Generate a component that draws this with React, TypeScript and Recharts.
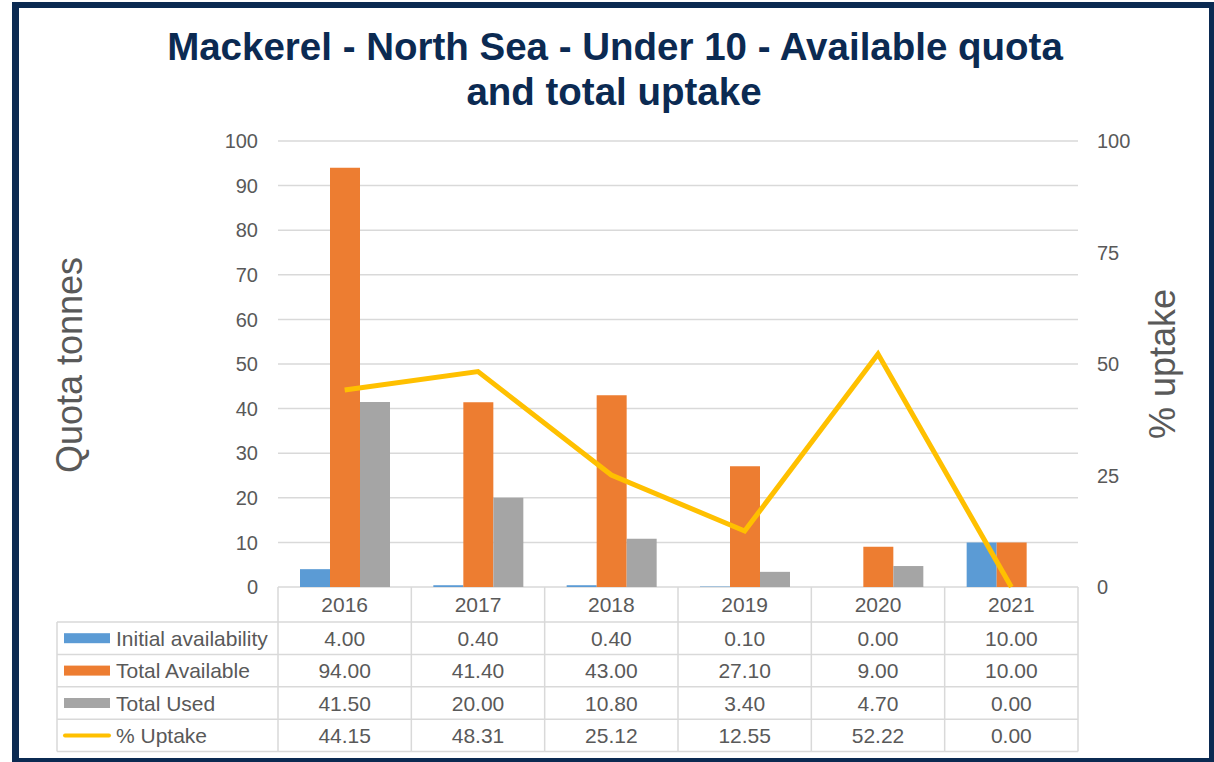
import React from 'react';
import { ComposedChart, Bar, Line, XAxis, YAxis, CartesianGrid } from 'recharts';

const years = ['2016', '2017', '2018', '2019', '2020', '2021'];
const initialAvailability = [4, 0.4, 0.4, 0.1, 0, 10];
const totalAvailable = [94, 41.4, 43, 27.1, 9, 10];
const totalUsed = [41.5, 20, 10.8, 3.4, 4.7, 0];
const uptake = [44.15, 48.31, 25.12, 12.55, 52.22, 0];

const leftTicks = [0, 10, 20, 30, 40, 50, 60, 70, 80, 90, 100];
const rightTicks = [0, 25, 50, 75, 100];

const data = years.map((year, i) => ({
  year,
  initial: initialAvailability[i],
  available: totalAvailable[i],
  used: totalUsed[i],
  uptake: uptake[i],
}));

const FONT = '"Liberation Sans", Arial, sans-serif';
const TEXT = '#595959';
const GRID = '#d9d9d9';
const NAVY = '#0b2a52';

// layout of the plot and the data table below it
const PLOT_LEFT = 278;
const PLOT_RIGHT = 1078;
const PLOT_TOP = 141;
const PLOT_BOTTOM = 587;
const COL_W = (PLOT_RIGHT - PLOT_LEFT) / years.length;
const HEADER_H = 35;
const ROW_H = 32.4;
const LEGEND_LEFT = 57;

const rows = [
  { name: 'Initial availability', values: initialAvailability, color: '#5b9bd5', kind: 'bar' },
  { name: 'Total Available', values: totalAvailable, color: '#ed7d31', kind: 'bar' },
  { name: 'Total Used', values: totalUsed, color: '#a5a5a5', kind: 'bar' },
  { name: '% Uptake', values: uptake, color: '#ffc000', kind: 'line' },
];

const TableTick = (props: any) => {
  const { x, index, payload } = props;
  const left = x - COL_W / 2;
  const bottom = PLOT_BOTTOM + HEADER_H + ROW_H * rows.length;
  return (
    <g fontFamily={FONT} fontSize={21} fill={TEXT}>
      <line x1={left + COL_W} y1={PLOT_BOTTOM} x2={left + COL_W} y2={bottom} stroke={GRID} strokeWidth={1.5} />
      {index === 0 && (
        <g>
          <line x1={left} y1={PLOT_BOTTOM} x2={left} y2={bottom} stroke={GRID} strokeWidth={1.5} />
          <line x1={LEGEND_LEFT} y1={PLOT_BOTTOM + HEADER_H} x2={LEGEND_LEFT} y2={bottom} stroke={GRID} strokeWidth={1.5} />
          {rows.map((r, ri) => {
            const cy = PLOT_BOTTOM + HEADER_H + ROW_H * ri + ROW_H / 2;
            return (
              <g key={r.name}>
                {r.kind === 'bar' ? (
                  <rect x={64} y={cy - 5} width={46} height={10} fill={r.color} />
                ) : (
                  <line x1={65} y1={cy} x2={109} y2={cy} stroke={r.color} strokeWidth={4} strokeLinecap="round" />
                )}
                <text x={116} y={cy} dy="0.36em" fill={TEXT}>{r.name}</text>
              </g>
            );
          })}
        </g>
      )}
      <text x={x} y={PLOT_BOTTOM + HEADER_H / 2} dy="0.36em" textAnchor="middle" fill={TEXT}>{payload.value}</text>
      {rows.map((r, ri) => {
        const top = PLOT_BOTTOM + HEADER_H + ROW_H * ri;
        return (
          <g key={r.name}>
            <line
              x1={index === 0 ? LEGEND_LEFT : left}
              y1={top}
              x2={left + COL_W}
              y2={top}
              stroke={GRID}
              strokeWidth={1.5}
            />
            <text x={x} y={top + ROW_H / 2} dy="0.36em" textAnchor="middle" fill={TEXT}>
              {r.values[index].toFixed(2)}
            </text>
          </g>
        );
      })}
      <line x1={index === 0 ? LEGEND_LEFT : left} y1={bottom} x2={left + COL_W} y2={bottom} stroke={GRID} strokeWidth={1.5} />
    </g>
  );
};

export default function App() {
  return (
    <div style={{ position: 'fixed', left: 0, top: 0, width: 1214, height: 762, overflow: 'hidden', background: '#fff' }}>
      <div
        style={{
          position: 'absolute',
          left: 12,
          top: 2,
          width: 1203,
          height: 762,
          boxSizing: 'border-box',
          borderLeft: `7px solid ${NAVY}`,
          borderTop: `6px solid ${NAVY}`,
          borderRight: `6px solid ${NAVY}`,
          borderBottom: `6px solid ${NAVY}`,
        }}
      />
      <div style={{ position: 'absolute', left: 0, top: 0 }}>
        <ComposedChart
          width={1214}
          height={762}
          data={data}
          margin={{ top: PLOT_TOP, left: PLOT_LEFT - 60, right: 1214 - PLOT_RIGHT - 60, bottom: 0 }}
          barCategoryGap="16.5%"
          barGap={0}
        >
          <CartesianGrid yAxisId="left" vertical={false} stroke={GRID} strokeWidth={1.5} />
          <XAxis
            dataKey="year"
            height={762 - PLOT_BOTTOM}
            axisLine={false}
            tickLine={false}
            interval={0}
            tick={<TableTick />}
          />
          <YAxis
            yAxisId="left"
            width={60}
            domain={[0, 100]}
            ticks={leftTicks}
            axisLine={false}
            tickLine={false}
            tickMargin={14}
            tick={{ fill: TEXT, fontSize: 20, fontFamily: FONT }}
          />
          <YAxis
            yAxisId="right"
            orientation="right"
            width={60}
            domain={[0, 100]}
            ticks={rightTicks}
            axisLine={false}
            tickLine={false}
            tickMargin={13}
            tick={{ fill: TEXT, fontSize: 20, fontFamily: FONT, textAnchor: 'start' }}
          />
          <Bar yAxisId="left" dataKey="initial" fill="#5b9bd5" isAnimationActive={false} />
          <Bar yAxisId="left" dataKey="available" fill="#ed7d31" isAnimationActive={false} />
          <Bar yAxisId="left" dataKey="used" fill="#a5a5a5" isAnimationActive={false} />
          <Line
            yAxisId="right"
            dataKey="uptake"
            stroke="#ffc000"
            strokeWidth={5}
            dot={false}
            type="linear"
            isAnimationActive={false}
          />
        </ComposedChart>
      </div>
      <svg width={1214} height={762} style={{ position: 'absolute', left: 0, top: 0, pointerEvents: 'none' }}>
        <g fontFamily={FONT} fontWeight="bold" fontSize={38.5} fill={NAVY} textAnchor="middle">
          <text x={615} y={60}>Mackerel - North Sea - Under 10 - Available quota</text>
          <text x={614} y={105}>and total uptake</text>
        </g>
        <g fontFamily={FONT} fontSize={36} fill={TEXT} textAnchor="middle">
          <text x={82} y={365} transform="rotate(-90, 82, 365)">Quota tonnes</text>
          <text x={1175} y={364} transform="rotate(-90, 1175, 364)">% uptake</text>
        </g>
      </svg>
    </div>
  );
}
